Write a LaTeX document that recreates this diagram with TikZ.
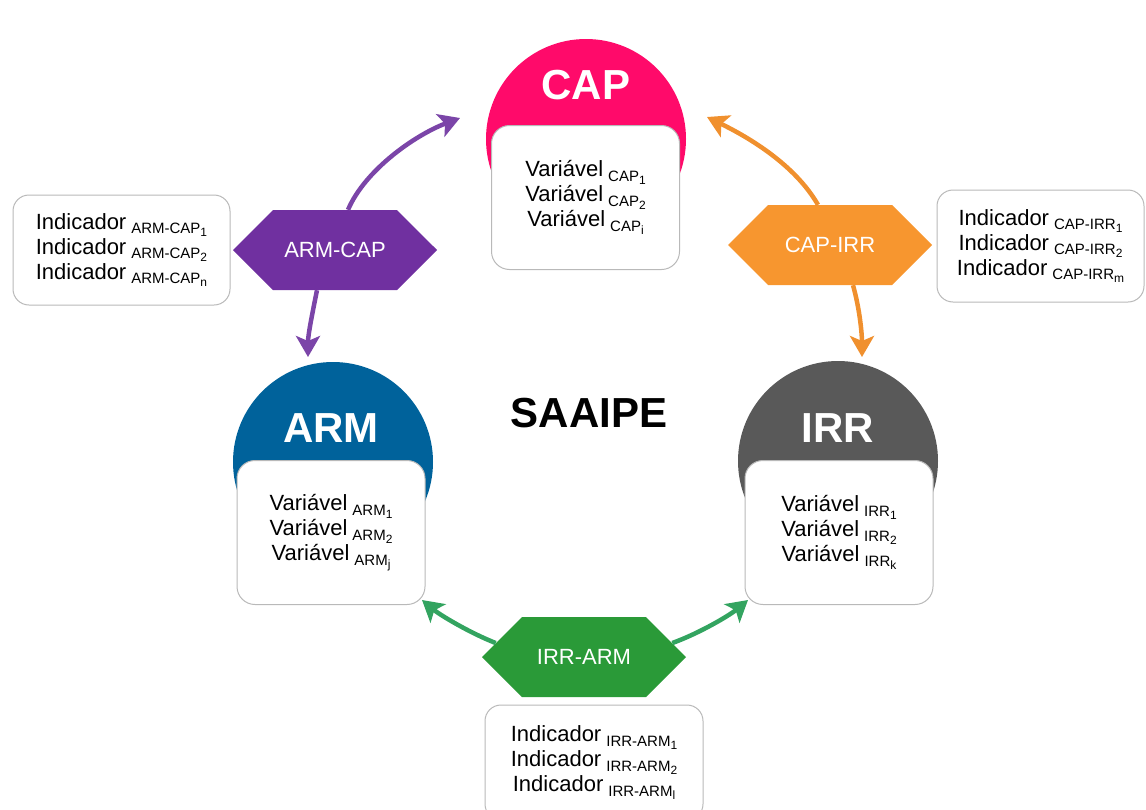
\documentclass[tikz,border=0pt]{standalone}
\usepackage{fontspec}
\setmainfont{Liberation Sans}
\usetikzlibrary{arrows.meta, shapes.symbols}
\definecolor{capc}{HTML}{FF0A6A}
\definecolor{armc}{HTML}{00629B}
\definecolor{irrc}{HTML}{595959}
\definecolor{purp}{HTML}{7030A0}
\definecolor{purpl}{HTML}{7B45A8}
\definecolor{orng}{HTML}{F7962F}
\definecolor{orngl}{HTML}{F0902E}
\definecolor{grn}{HTML}{2A9A38}
\definecolor{grnl}{HTML}{33A460}
\newcommand{\sbx}[2]{\hspace{5pt}\raisebox{-4.5pt}{\fontsize{15}{15}\selectfont #1\raisebox{-3pt}{\fontsize{12}{12}\selectfont #2}}}

\begin{document}
\begin{tikzpicture}[x=1pt, y=-1pt,
    dome/.style={circle, minimum size=200pt, inner sep=0},
    vbox/.style={draw=gray!55, line width=1pt, fill=white, rounded corners=18pt,
        minimum width=188pt, minimum height=144pt, align=center, font=\fontsize{22}{25}\selectfont},
    ibox/.style={draw=gray!55, line width=1pt, fill=white, rounded corners=16pt,
        align=center, font=\fontsize{22}{25}\selectfont},
    ttl/.style={font=\fontsize{42}{42}\selectfont\bfseries, inner sep=0},
    hex/.style={signal, signal to=west and east, signal pointer angle=90,
        minimum width=204pt, minimum height=80pt, inner sep=0, text=white, font=\fontsize{22}{22}\selectfont},
    lnk/.style={line width=4.5pt, -{Stealth[length=21pt, width=24pt, inset=5pt]}}]
\useasboundingbox (0,0) rectangle (1146,809);

\node[dome, fill=capc] (capdome) at (586,139) {};
\node[vbox] (capbox) at (585.5,197.5) {Variável\sbx{CAP}{1}\\Variável\sbx{CAP}{2}\\Variável\sbx{CAP}{i}};
\node[ttl, text=white] (captxt) at (586,85) {CAP};

\node[dome, fill=armc] (armdome) at (333,462) {};
\node[vbox] (armbox) at (331,532.5) {Variável\sbx{ARM}{1}\\Variável\sbx{ARM}{2}\\Variável\sbx{ARM}{j}};
\node[ttl, text=white] (armtxt) at (331,428) {ARM};

\node[dome, fill=irrc] (irrdome) at (838,461) {};
\node[vbox] (irrbox) at (839,532.5) {Variável\sbx{IRR}{1}\\Variável\sbx{IRR}{2}\\Variável\sbx{IRR}{k}};
\node[ttl, text=white] (irrtxt) at (838,428) {IRR};

\node[ttl] (title) at (589,413) {SAAIPE};

\node[hex, fill=purp] (armcap) at (335,250) {ARM-CAP};
\node[hex, fill=orng] (capirr) at (830,245) {CAP-IRR};
\node[hex, fill=grn] (irrarm) at (584,657) {IRR-ARM};

\node[ibox, minimum width=217pt, minimum height=110pt] (armcapind) at (121.5,250)
    {Indicador\sbx{ARM-CAP}{1}\\Indicador\sbx{ARM-CAP}{2}\\Indicador\sbx{ARM-CAP}{n}};
\node[ibox, minimum width=207pt, minimum height=112pt] (capirrind) at (1040.5,246)
    {Indicador\sbx{CAP-IRR}{1}\\Indicador\sbx{CAP-IRR}{2}\\Indicador\sbx{CAP-IRR}{m}};
\node[ibox, minimum width=218pt, minimum height=115pt] (irrarmind) at (594,762.5)
    {Indicador\sbx{IRR-ARM}{1}\\Indicador\sbx{IRR-ARM}{2}\\Indicador\sbx{IRR-ARM}{l}};

\coordinate (capin1) at (460,118);
\coordinate (armin1) at (308,357);
\coordinate (capin2) at (707,117);
\coordinate (irrin1) at (862,357);
\coordinate (armin2) at (422,600);
\coordinate (irrin2) at (748,600);

\draw[lnk, purpl] ([xshift=13pt]armcap.north) .. controls (365,170) and (415,135) .. (capin1);
\draw[lnk, purpl] ([xshift=-18pt]armcap.south) .. controls (312,315) and (308,335) .. (armin1);
\draw[lnk, orngl] ([xshift=-12pt]capirr.north) .. controls (795,165) and (750,138) .. (capin2);
\draw[lnk, orngl] ([xshift=23pt]capirr.south) .. controls (860,310) and (862,335) .. (irrin1);
\draw[lnk, grnl] (irrarm.171) .. controls (470,633) and (440,615) .. (armin2);
\draw[lnk, grnl] (irrarm.9) .. controls (700,633) and (730,615) .. (irrin2);
\end{tikzpicture}
\end{document}
